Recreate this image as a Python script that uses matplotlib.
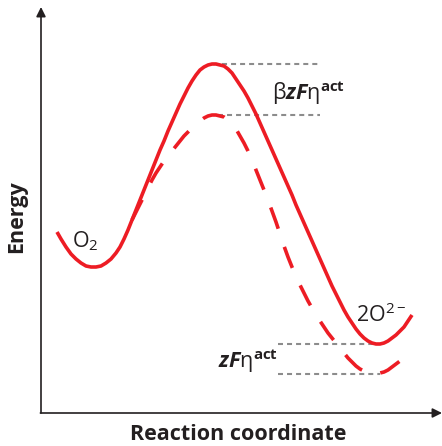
import matplotlib
matplotlib.use('Agg')
import matplotlib.pyplot as plt

plt.rcParams['font.family'] = ['Open Sans', 'DejaVu Sans']
plt.rcParams['mathtext.fontset'] = 'custom'
plt.rcParams['mathtext.rm'] = 'Open Sans'
plt.rcParams['mathtext.it'] = 'Open Sans:italic:bold'
plt.rcParams['mathtext.bf'] = 'Open Sans:bold'
plt.rcParams['lines.scale_dashes'] = False

# energy profile at equilibrium (solid)
x_solid = [16, 20, 25, 30, 35, 40, 45, 50, 55, 60, 65, 70, 75, 79, 83, 87,
           91, 95, 99, 103, 107, 111, 115, 119, 123, 127, 131, 135, 139,
           143, 147, 151, 155, 159, 163, 167, 171, 175, 179, 183, 187, 191,
           195, 199, 203, 207, 211, 215, 219, 223, 227, 231, 235, 239, 243,
           247, 251, 255, 259, 263, 267, 271, 275, 279, 283, 287, 291, 295,
           299, 303, 307, 311, 315, 319, 323, 327, 331, 335, 339, 343, 347,
           351, 355, 359, 363, 367, 371]
e_solid = [181, 174, 166, 159, 154, 150, 147, 146, 146, 147, 150, 154, 160,
           166, 174, 183, 193, 203, 213, 223, 233, 243, 253, 263, 272, 282,
           291, 300, 309, 317, 325, 332, 338, 343, 346, 348, 349, 349, 348,
           347, 344, 340, 334, 328, 322, 315, 307, 299, 290, 281, 272, 263,
           254, 245, 236, 227, 218, 208, 199, 190, 181, 172, 163, 154, 145,
           136, 127, 119, 111, 103, 96, 90, 84, 79, 75, 72, 70, 69, 69, 70,
           72, 75, 78, 82, 86, 92, 98]

# energy profile under overpotential (dashed)
x_dash = [87, 91, 95, 99, 103, 107, 111, 115, 119, 123, 127, 131, 135, 139,
          143, 147, 151, 155, 159, 163, 167, 171, 175, 179, 183, 187, 191,
          195, 199, 203, 207, 211, 215, 219, 223, 227, 231, 235, 239, 243,
          247, 251, 255, 259, 263, 267, 271, 275, 279, 283, 287, 291, 295,
          299, 303, 307, 311, 315, 319, 323, 327, 331, 335, 339, 343, 347,
          351, 355, 359, 363]
e_dash = [185, 193, 201, 209, 217, 225, 233, 240, 246, 252, 257, 262, 267,
          272, 277, 281, 285, 289, 292, 295, 297, 298, 298, 297, 296, 293,
          289, 284, 277, 270, 262, 253, 243, 233, 223, 213, 202, 191, 179,
          167, 156, 146, 137, 128, 120, 112, 105, 98, 92, 86, 80, 75, 70, 65,
          60, 55, 51, 47, 44, 42, 40, 39, 39, 40, 41, 43, 46, 49, 52, 56]

# reference levels (energy, x start, x end)
levels = [349, 298, 69, 39]
lev_x0 = [172, 177, 237, 237]
lev_x1 = [277, 279, 339, 339]

red = '#ED1C24'
gray = '#8C8C8C'
dark = '#231F20'

fig = plt.figure(figsize=(4.42, 4.46), dpi=100)
ax = fig.add_axes([0, 0, 1, 1])
ax.set_xlim(-41, 401)
ax.set_ylim(-33, 413)
ax.axis('off')

for e, a, b in zip(levels, lev_x0, lev_x1):
    ax.plot([a, b], [e, e], color=gray, lw=1.5, dashes=(3.6, 2.9))

ax.plot(x_solid, e_solid, color=red, lw=2.6, solid_capstyle='butt',
        solid_joinstyle='round')
ax.plot(x_dash, e_dash, color=red, lw=2.6, linestyle=(23.5, (16.2, 13.8)),
        dash_capstyle='butt', dash_joinstyle='round')

# axes with arrows
ax.annotate('', xy=(0, 406), xytext=(0, 0),
            arrowprops=dict(arrowstyle='-|>', color=dark, lw=1.2,
                            mutation_scale=14, shrinkA=0, shrinkB=0))
ax.annotate('', xy=(401, 0), xytext=(-0.6, 0),
            arrowprops=dict(arrowstyle='-|>', color=dark, lw=1.2,
                            mutation_scale=14, shrinkA=0, shrinkB=0))

ax.text(-24, 196, 'Energy', rotation=90, ha='center', va='center',
        fontsize=15.5, fontweight='bold', color=dark)
ax.text(197, -22, 'Reaction coordinate', ha='center', va='center',
        fontsize=15.5, fontweight='bold', color=dark)

ax.text(31, 166, r'$\mathrm{O}_\mathrm{2}$', fontsize=15.5, color=dark,
        ha='left', va='baseline')
ax.text(315, 91, r'$\mathrm{2O}^{\mathrm{2-}}$', fontsize=15.5, color=dark,
        ha='left', va='baseline')
ax.text(231, 313, r'$\mathrm{\beta}zF\mathrm{\eta}^{\mathbf{act}}$',
        fontsize=15.5, color=dark, ha='left', va='baseline')
ax.text(177, 45, r'$zF\mathrm{\eta}^{\mathbf{act}}$',
        fontsize=15.5, color=dark, ha='left', va='baseline')

fig.savefig('out.png', dpi=100)
